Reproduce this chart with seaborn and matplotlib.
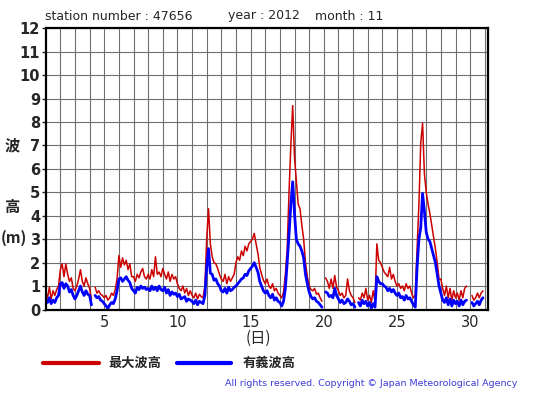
import numpy as np
import pandas as pd
import matplotlib
matplotlib.use("Agg")
import matplotlib.pyplot as plt
import seaborn as sns

nan = float("nan")

# 3-hourly readings (hours 0,3,...,21) for each day of November 2012
hours = [0, 3, 6, 9, 12, 15, 18, 21]
days = list(range(1, 31))

# significant wave height (有義波高), m
sig_wave = [
    [0.45, 0.30, 0.50, 0.25, 0.40, 0.30, 0.50, 0.60],
    [1.10, 1.15, 0.90, 1.10, 1.00, 0.75, 0.85, 0.60],
    [0.45, 0.60, 0.80, 1.00, 0.75, 0.60, 0.80, 0.65],
    [0.60, 0.20, nan, 0.60, 0.50, 0.55, 0.40, 0.35],
    [0.25, 0.15, 0.05, 0.20, 0.30, 0.25, 0.45, 0.80],
    [1.30, 1.35, 1.20, 1.30, 1.40, 1.25, 1.15, 0.90],
    [0.80, 0.70, 0.95, 0.85, 1.00, 0.90, 0.95, 0.85],
    [0.90, 0.80, 1.00, 0.85, 0.95, 0.80, 1.00, 0.85],
    [0.80, 0.95, 0.70, 0.85, 0.60, 0.75, 0.65, 0.70],
    [0.55, 0.65, 0.45, 0.50, 0.55, 0.35, 0.45, 0.40],
    [0.35, 0.25, 0.40, 0.20, 0.35, 0.30, 0.25, 0.60],
    [1.80, 2.60, 1.55, 1.50, 1.25, 1.30, 1.10, 1.00],
    [0.80, 0.75, 0.90, 0.70, 0.95, 0.80, 0.85, 0.95],
    [1.00, 1.10, 1.20, 1.30, 1.35, 1.50, 1.45, 1.65],
    [1.75, 1.85, 2.00, 1.80, 1.60, 1.20, 1.00, 0.80],
    [0.70, 0.80, 0.60, 0.50, 0.65, 0.40, 0.50, 0.35],
    [0.30, 0.15, 0.35, 0.90, 2.00, 3.20, 4.50, 5.45],
    [4.10, 3.00, 2.80, 2.70, 2.50, 2.20, 1.50, 1.10],
    [0.75, 0.55, 0.45, 0.50, 0.35, 0.30, 0.20, 0.10],
    [nan, 0.75, 0.70, 0.55, 0.60, 0.50, 0.90, 0.60],
    [0.45, 0.30, 0.40, 0.25, 0.30, 0.45, 0.35, 0.20],
    [0.25, 0.10, nan, 0.30, 0.15, 0.40, 0.25, 0.35],
    [0.15, 0.30, 0.05, 0.25, 0.10, 1.40, 1.20, 1.10],
    [1.10, 1.00, 0.95, 0.80, 0.90, 0.75, 0.85, 0.70],
    [0.60, 0.70, 0.50, 0.55, 0.40, 0.60, 0.45, 0.50],
    [0.35, 0.20, 0.10, 1.80, 3.00, 3.50, 4.95, 4.20],
    [3.30, 3.00, 2.90, 2.60, 2.30, 2.00, 1.50, 1.00],
    [0.70, 0.40, 0.30, 0.50, 0.20, 0.45, 0.15, 0.40],
    [0.25, 0.35, 0.15, 0.40, 0.20, 0.35, 0.40, nan],
    [nan, 0.30, 0.15, 0.25, 0.35, 0.20, 0.40, 0.50],
]

# maximum wave height (最大波高), m
max_wave = [
    [0.75, 0.50, 0.95, 0.45, 0.80, 0.60, 0.85, 1.00],
    [1.70, 1.95, 1.40, 1.95, 1.50, 1.20, 1.35, 0.90],
    [0.80, 1.00, 1.30, 1.70, 1.20, 1.00, 1.35, 1.10],
    [0.90, 0.45, nan, 0.95, 0.70, 0.80, 0.65, 0.60],
    [0.50, 0.60, 0.40, 0.50, 0.70, 0.60, 0.85, 1.30],
    [2.30, 1.80, 2.20, 1.90, 2.10, 1.70, 1.95, 1.40],
    [1.40, 1.20, 1.50, 1.35, 1.60, 1.75, 1.40, 1.30],
    [1.50, 1.30, 1.70, 1.40, 2.25, 1.50, 1.60, 1.40],
    [1.75, 1.50, 1.30, 1.60, 1.20, 1.50, 1.30, 1.40],
    [1.10, 0.90, 0.80, 1.00, 0.70, 0.90, 0.60, 0.80],
    [0.60, 0.50, 0.70, 0.45, 0.65, 0.55, 0.50, 1.00],
    [3.00, 4.30, 2.80, 2.25, 2.00, 1.95, 1.75, 1.50],
    [1.30, 1.20, 1.50, 1.10, 1.40, 1.20, 1.35, 1.50],
    [2.00, 2.25, 2.10, 2.50, 2.30, 2.70, 2.50, 2.80],
    [2.90, 3.00, 3.25, 2.80, 2.40, 1.80, 1.50, 1.25],
    [1.10, 1.30, 1.00, 0.90, 1.10, 0.80, 0.90, 0.70],
    [0.60, 0.50, 0.75, 1.50, 2.60, 5.00, 7.00, 8.70],
    [6.50, 5.50, 4.50, 4.30, 3.60, 3.00, 2.00, 1.40],
    [1.00, 0.85, 0.80, 0.90, 0.65, 0.70, 0.50, 0.35],
    [nan, 1.35, 1.20, 0.90, 1.30, 0.90, 1.45, 0.95],
    [0.80, 0.60, 0.70, 0.50, 0.60, 1.30, 0.80, 0.60],
    [0.50, 0.30, nan, 0.50, 0.40, 0.70, 0.50, 0.90],
    [0.40, 0.60, 0.30, 0.80, 0.35, 2.80, 2.10, 2.00],
    [1.80, 1.60, 1.50, 1.40, 1.80, 1.30, 1.50, 1.20],
    [1.00, 1.10, 0.90, 1.00, 0.80, 1.10, 0.90, 1.00],
    [0.70, 0.50, 0.60, 2.60, 4.50, 7.10, 7.95, 5.80],
    [5.00, 4.50, 4.10, 3.60, 3.10, 2.60, 2.00, 1.30],
    [1.30, 0.90, 0.60, 1.00, 0.50, 0.90, 0.40, 0.80],
    [0.50, 0.70, 0.40, 0.80, 0.50, 0.90, 1.00, nan],
    [nan, 0.60, 0.40, 0.50, 0.70, 0.50, 0.70, 0.80],
]

x_ticks = [5, 10, 15, 20, 25, 30]
y_ticks = list(range(0, 13))
title_parts = ["station number : 47656", "year : 2012", "month : 11"]
legend_labels = ["最大波高", "有義波高"]
copyright_text = "All rights reserved. Copyright © Japan Meteorological Agency"


def build(values):
    rows = []
    for d, vals in zip(days, values):
        for h, v in zip(hours, vals):
            rows.append((d + h / 24.0, v))
    df = pd.DataFrame(rows, columns=["day", "h"])
    df["seg"] = df["h"].isna().cumsum()
    return df.dropna()


df_max = build(max_wave)
df_sig = build(sig_wave)

sns.set_style("white")
plt.rcParams["font.family"] = ["DejaVu Sans", "Noto Sans CJK JP"]

W, H = 555, 395
fig = plt.figure(figsize=(W / 100, H / 100), dpi=100)
L, R, T, B = 45.7, 488.0, 28.3, 309.5
ax = fig.add_axes([L / W, 1 - B / H, (R - L) / W, (B - T) / H])

sns.lineplot(data=df_max, x="day", y="h", units="seg", estimator=None,
             color="#cc0000", linewidth=1.1, ax=ax, sort=False)
sns.lineplot(data=df_sig, x="day", y="h", units="seg", estimator=None,
             color="#0000ff", linewidth=2.0, ax=ax, sort=False)

ax.set_xlim(1, 31.22)
ax.set_ylim(0, 12)
ax.set_xticks(list(range(2, 32)))
ax.set_xticklabels([str(d) if d in x_ticks else "" for d in range(2, 32)],
                   fontsize=10.5, family="DejaVu Sans")
ax.set_yticks(y_ticks)
ax.set_yticklabels([str(v) for v in y_ticks], fontsize=10.5,
                   fontweight="bold", family="DejaVu Sans")
ax.tick_params(axis="x", length=0, pad=4)
ax.tick_params(axis="y", length=3, width=1, pad=1, direction="out", left=True)
ax.grid(True, color="#707070", linewidth=0.8)
ax.set_axisbelow(True)
ax.set_xlabel("")
ax.set_ylabel("")
for s in ax.spines.values():
    s.set_color("black")
    s.set_linewidth(1.6)

def fx(px):
    return px / W

def fy(py):
    return 1 - py / H

fs_t = 9
fig.text(fx(45), fy(16), title_parts[0], fontsize=fs_t, va="center", ha="left")
fig.text(fx(228), fy(16), title_parts[1], fontsize=fs_t, va="center", ha="left")
fig.text(fx(315), fy(16), title_parts[2], fontsize=fs_t, va="center", ha="left")

cjk = ["Noto Sans CJK JP", "DejaVu Sans"]
fig.text(fx(12), fy(145), "波", fontsize=11, fontweight="bold", family=cjk,
         ha="center", va="center")
fig.text(fx(12), fy(207), "高", fontsize=11, fontweight="bold", family=cjk,
         ha="center", va="center")
fig.text(fx(14), fy(238), "(m)", fontsize=11, fontweight="bold", family=cjk,
         ha="center", va="center")
fig.text(fx(258), fy(338), "(日)", fontsize=11, family=cjk,
         ha="center", va="center")

# legend
fig.add_artist(plt.Line2D([fx(43), fx(99)], [fy(363), fy(363)],
                          color="#cc0000", linewidth=3))
fig.text(fx(108), fy(363), legend_labels[0], fontsize=9.5, fontweight="bold",
         family=cjk, ha="left", va="center")
fig.add_artist(plt.Line2D([fx(177), fx(231)], [fy(363), fy(363)],
                          color="#0000ff", linewidth=3))
fig.text(fx(243), fy(363), legend_labels[1], fontsize=9.5, fontweight="bold",
         family=cjk, ha="left", va="center")

fig.text(fx(517), fy(384), copyright_text, fontsize=6.8, color="#3c3cdc",
         ha="right", va="center", family="DejaVu Sans")

fig.savefig("out.png", dpi=100)
